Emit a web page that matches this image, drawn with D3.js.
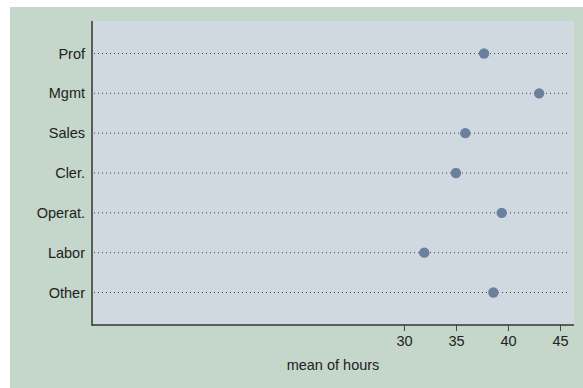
<!DOCTYPE html>
<html><head><meta charset="utf-8">
<script src="https://cdn.jsdelivr.net/npm/d3@7"></script>
<style>body{margin:0;background:#fff}svg{display:block}text{font-family:"Liberation Sans",Arial,sans-serif}</style>
</head><body><svg id="c" width="583" height="388"></svg>
<script>
const categories = ["Prof","Mgmt","Sales","Cler.","Operat.","Labor","Other"];
const meanHours = [37.7, 43.0, 35.9, 35.0, 39.4, 31.95, 38.6];
const xTicks = [30, 35, 40, 45];
const xTitle = "mean of hours";

const svg = d3.select("#c");
svg.append("rect").attr("x",10).attr("y",7).attr("width",573).attr("height",381).attr("fill","#c5d6cb");
const L=92, R=574, T=21, B=325;
svg.append("rect").attr("x",L).attr("y",T).attr("width",R-L).attr("height",B-T).attr("fill","#d1d9e0");

const x = d3.scaleLinear().domain([0, 46.35]).range([L, R]);
const y = d3.scalePoint().domain(categories).range([53.5, 292.5]);

svg.append("g").selectAll("line").data(categories).join("line")
  .attr("x1",L+2).attr("x2",R-4).attr("y1",d=>y(d)).attr("y2",d=>y(d))
  .attr("stroke","#444").attr("stroke-width",1).attr("stroke-dasharray","1,3");

svg.append("g").selectAll("text").data(categories).join("text")
  .attr("x",L-7).attr("y",d=>y(d)).attr("dy","0.35em").attr("text-anchor","end")
  .attr("font-size",14.5).attr("fill","#222").text(d=>d);

const xa = svg.append("g").attr("transform",`translate(0,${B})`)
  .call(d3.axisBottom(x).tickValues(xTicks).tickSize(6).tickPadding(5).tickSizeOuter(0));
xa.select(".domain").remove();
xa.selectAll(".tick line").attr("stroke","#444");
xa.selectAll(".tick text").attr("font-size",14.5).attr("fill","#222").attr("font-family","Liberation Sans, Arial, sans-serif");

svg.append("line").attr("x1",L).attr("x2",R).attr("y1",B).attr("y2",B).attr("stroke","#333").attr("stroke-width",1.5);
svg.append("line").attr("x1",L).attr("x2",L).attr("y1",T).attr("y2",B+0.75).attr("stroke","#333").attr("stroke-width",1.5);

svg.append("text").attr("x",(L+R)/2).attr("y",370).attr("text-anchor","middle")
  .attr("font-size",14.5).attr("fill","#222").text(xTitle);

svg.append("g").selectAll("circle").data(categories).join("circle")
  .attr("cx",(d,i)=>x(meanHours[i])).attr("cy",d=>y(d)).attr("r",5.2).attr("fill","#6a809e");
</script></body></html>
